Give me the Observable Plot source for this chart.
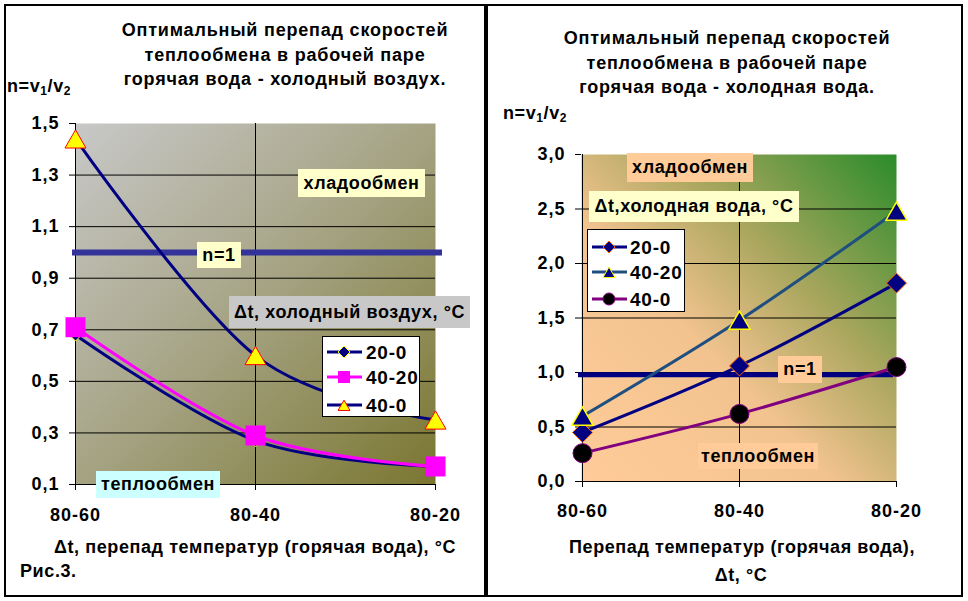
<!DOCTYPE html>
<html><head><meta charset="utf-8">
<script src="https://cdn.jsdelivr.net/npm/d3@7"></script>
<script src="https://cdn.jsdelivr.net/npm/@observablehq/plot@0.6"></script>
<style>
body{margin:0;background:#fff;font-family:"Liberation Sans",Arial,sans-serif;font-weight:bold;color:#000;}
#page{position:relative;width:968px;height:601px;overflow:hidden;background:#fff;}
.panel{position:absolute;border:2px solid #000;box-sizing:border-box;}
.plot{position:absolute;top:0;}
.plot text{letter-spacing:1px;}
.lbl{position:absolute;font-size:18px;display:flex;align-items:center;justify-content:center;white-space:nowrap;letter-spacing:0.6px;}
.txt{position:absolute;font-size:18px;white-space:nowrap;letter-spacing:0.6px;}
.title{position:absolute;font-size:18px;text-align:center;white-space:nowrap;transform:translateX(-50%);line-height:24.5px;letter-spacing:0.8px;}
sub{font-size:12px;vertical-align:-3px;line-height:0;}
</style></head><body><div id="page">
<div class="panel" style="left:4px;top:4px;width:482px;height:593px"></div>
<div class="panel" style="left:486px;top:4px;width:477px;height:593px"></div>
</div>
<script>
// ---------- data ----------
const categories = ["80-60", "80-40", "80-20"];
const seriesNames = ["20-0", "40-20", "40-0"];
// left chart: hot water – cold air
const air_20_0  = [0.68, 0.27, 0.17];
const air_40_20 = [0.71, 0.29, 0.17];
const air_40_0  = [1.44, 0.60, 0.35];
const airTicks  = [0.1, 0.3, 0.5, 0.7, 0.9, 1.1, 1.3, 1.5];
const airUnity  = [1.0];
// right chart: hot water – cold water
const water_20_0  = [0.45, 1.06, 1.82];
const water_40_20 = [0.60, 1.48, 2.48];
const water_40_0  = [0.26, 0.62, 1.05];
const waterTicks  = [0, 0.5, 1.0, 1.5, 2.0, 2.5, 3.0];
const waterUnity  = [0.98];

const rows = (vals) => categories.map((c, i) => ({cat: c, value: vals[i]}));
const fmt = (d) => d.toFixed(1).replace(".", ",");
const page = document.getElementById("page");

function gradientDefs(id, coords, stops) {
  return () => {
    const defs = d3.create("svg:defs");
    const g = defs.append("linearGradient").attr("id", id)
      .attr("x1", coords[0]).attr("y1", coords[1]).attr("x2", coords[2]).attr("y2", coords[3]);
    stops.forEach(([o, c]) => g.append("stop").attr("offset", o).attr("stop-color", c));
    return defs.node();
  };
}

const fontStyle = {fontFamily: "Liberation Sans, Arial, sans-serif", fontWeight: "bold", fontSize: "18px", color: "#000", background: "transparent", overflow: "visible"};

// ---------- left chart ----------
const airPlot = Plot.plot({
  width: 484, height: 601,
  marginLeft: 75, marginRight: 49, marginTop: 123, marginBottom: 117,
  style: fontStyle,
  x: {type: "point", domain: categories, padding: 0, axis: null},
  y: {domain: [0.1, 1.5], axis: null},
  marks: [
    gradientDefs("gAir", ["0", "0", "1", "1"], [["0", "#c8c8c8"], ["0.45", "#a9a78a"], ["1", "#7a7630"]]),
    Plot.frame({fill: "url(#gAir)", stroke: null}),
    Plot.gridY(airTicks.slice(0, -1), {stroke: "#000", strokeOpacity: 1}),
    Plot.ruleX(categories.slice(0, 2), {stroke: "#000"}),
    Plot.axisY(airTicks, {label: null, tickSize: 6, tickPadding: 10, tickFormat: fmt, fontSize: 18, fontWeight: "bold"}),
    Plot.axisX(categories, {label: null, tickSize: 6, tickPadding: 18, fontSize: 18, fontWeight: "bold"}),
    Plot.ruleY(airUnity, {stroke: "#333399", strokeWidth: 6, insetLeft: -3, insetRight: -7}),
    Plot.line(rows(air_20_0), {x: "cat", y: "value", stroke: "#000080", strokeWidth: 3, curve: "cardinal"}),
    Plot.line(rows(air_40_20), {x: "cat", y: "value", stroke: "#ff00ff", strokeWidth: 3, curve: "cardinal"}),
    Plot.line(rows(air_40_0), {x: "cat", y: "value", stroke: "#000080", strokeWidth: 3, curve: "cardinal"}),
    Plot.dot(rows(air_20_0), {x: "cat", y: "value", symbol: "diamond2", r: 5.5, fill: "#000080", stroke: "#ffff00", strokeWidth: 1}),
    Plot.dot(rows(air_40_20), {x: "cat", y: "value", symbol: "square", r: 11.3, fill: "#ff00ff", stroke: "none"}),
    Plot.dot(rows(air_40_0), {x: "cat", y: "value", symbol: "triangle", r: 7.8, dy: 3, fill: "#ffff00", stroke: "#ff0000", strokeWidth: 1})
  ]
});
airPlot.classList.add("plot");
airPlot.style.left = "0px";
page.appendChild(airPlot);

// ---------- right chart ----------
const waterPlot = Plot.plot({
  width: 476, height: 601,
  marginLeft: 93, marginRight: 68, marginTop: 154, marginBottom: 120,
  style: fontStyle,
  x: {type: "point", domain: categories, padding: 0, axis: null},
  y: {domain: [0, 3], axis: null},
  marks: [
    gradientDefs("gWater", ["0", "1", "1", "0"], [["0", "#ffcc99"], ["0.4", "#f2c38f"], ["0.65", "#a9a65e"], ["1", "#2a8c2a"]]),
    Plot.frame({fill: "url(#gWater)", stroke: null}),
    Plot.gridY(waterTicks.slice(0, -1), {stroke: "#000", strokeOpacity: 1}),
    Plot.ruleX(categories.slice(0, 2), {stroke: "#000"}),
    Plot.axisY(waterTicks, {label: null, tickSize: 6, tickPadding: 10, tickFormat: fmt, fontSize: 18, fontWeight: "bold"}),
    Plot.axisX(categories, {label: null, tickSize: 6, tickPadding: 17, fontSize: 18, fontWeight: "bold"}),
    Plot.ruleY(waterUnity, {stroke: "#000080", strokeWidth: 5, insetLeft: -3, insetRight: 3}),
    Plot.line(rows(water_20_0), {x: "cat", y: "value", stroke: "#000080", strokeWidth: 3, curve: "cardinal"}),
    Plot.line(rows(water_40_20), {x: "cat", y: "value", stroke: "#1f4f80", strokeWidth: 3, curve: "cardinal"}),
    Plot.line(rows(water_40_0), {x: "cat", y: "value", stroke: "#800080", strokeWidth: 3, curve: "cardinal"}),
    Plot.dot(rows(water_20_0), {x: "cat", y: "value", symbol: "diamond2", r: 9, fill: "#000080", stroke: "#ff6600", strokeWidth: 1}),
    Plot.dot(rows(water_40_20), {x: "cat", y: "value", symbol: "triangle", r: 7.8, dy: 3, fill: "#000080", stroke: "#ffff00", strokeWidth: 1.5}),
    Plot.dot(rows(water_40_0), {x: "cat", y: "value", symbol: "circle", r: 9.5, fill: "#000000", stroke: "#800080", strokeWidth: 1})
  ]
});
waterPlot.classList.add("plot");
waterPlot.style.left = "488px";
page.appendChild(waterPlot);

// ---------- texts ----------
function addHTML(cls, html, css) {
  const d = document.createElement("div");
  d.className = cls;
  d.innerHTML = html;
  Object.assign(d.style, css);
  page.appendChild(d);
  return d;
}
addHTML("title", "Оптимальный перепад скоростей<br>теплообмена в рабочей паре<br>горячая вода - холодный воздух.", {left: "285px", top: "18px"});
addHTML("title", "Оптимальный перепад скоростей<br>теплообмена в рабочей паре<br>горячая вода - холодная вода.", {left: "727px", top: "26px"});
addHTML("txt", "n=v<sub>1</sub>/v<sub>2</sub>", {left: "7px", top: "76px"});
addHTML("txt", "n=v<sub>1</sub>/v<sub>2</sub>", {left: "503px", top: "103px"});
addHTML("txt", "Δt, перепад температур (горячая вода), °C", {left: "255px", top: "537px", transform: "translateX(-50%)"});
addHTML("txt", "Рис.3.", {left: "20px", top: "561px"});
addHTML("txt", "Перепад температур (горячая вода),", {left: "742px", top: "537px", transform: "translateX(-50%)"});
addHTML("txt", "Δt, °C", {left: "741px", top: "565px", transform: "translateX(-50%)"});

const boxes = [
  ["хладообмен", 298, 169, 127, 28, "#ffffcc"],
  ["n=1", 197, 242, 44, 26, "#ffffcc"],
  ["Δt, холодный воздух, °C", 229, 296, 241, 32, "#c8c8c8"],
  ["теплообмен", 96, 471, 124, 27, "#ccffff"],
  ["хладообмен", 627, 153, 126, 29, "#ffcc99"],
  ["Δt,холодная вода, °C", 589, 191, 210, 31, "#ffffcc"],
  ["n=1", 778, 356, 44, 27, "#ffcc99"],
  ["теплообмен", 698, 443, 120, 26, "#ffcc99"]
];
boxes.forEach(([t, x, y, w, h, bg]) => addHTML("lbl", t, {left: x + "px", top: y + "px", width: w + "px", height: h + "px", background: bg}));

// ---------- legends ----------
function legend(box, items) {
  const div = document.createElement("div");
  Object.assign(div.style, {position: "absolute", left: box.x + "px", top: box.y + "px", width: box.w + "px", height: box.h + "px", background: "#fff", border: "1px solid #000", boxSizing: "border-box"});
  const svg = d3.select(div).append("svg").attr("width", box.w).attr("height", box.h)
    .style("position", "absolute").style("left", "-1px").style("top", "-1px").style("overflow", "visible");
  const types = {diamond2: d3.symbolDiamond2, square: d3.symbolSquare, triangle: d3.symbolTriangle, circle: d3.symbolCircle};
  items.forEach((it, i) => {
    const g = svg.append("g").attr("transform", `translate(0,${box.rows[i]})`);
    g.append("line").attr("x1", box.l1).attr("x2", box.l2).attr("stroke", it.line).attr("stroke-width", 3);
    g.append("path").attr("d", d3.symbol(types[it.symbol], it.size)())
      .attr("transform", `translate(${box.mx},${it.dy || 0})`)
      .attr("fill", it.fill).attr("stroke", it.stroke).attr("stroke-width", 1);
    g.append("text").attr("x", box.tx).attr("dy", "0.36em").attr("font-size", 19)
      .attr("font-weight", "bold").attr("letter-spacing", "0.8px")
      .attr("font-family", "Liberation Sans, Arial, sans-serif").text(it.label);
  });
  page.appendChild(div);
}
legend({x: 322, y: 336, w: 98, h: 81, rows: [16, 41, 69], l1: 5, l2: 40, mx: 22, tx: 44}, [
  {label: seriesNames[0], line: "#000080", symbol: "diamond2", size: 92, fill: "#000080", stroke: "#ffff00"},
  {label: seriesNames[1], line: "#ff00ff", symbol: "square", size: 144, fill: "#ff00ff", stroke: "none"},
  {label: seriesNames[2], line: "#000080", symbol: "triangle", size: 62, dy: 2, fill: "#ffff00", stroke: "#ff0000"}
]);
legend({x: 587, y: 229, w: 98, h: 83, rows: [18, 43, 70], l1: 5, l2: 40, mx: 22, tx: 43}, [
  {label: seriesNames[0], line: "#000080", symbol: "diamond2", size: 92, fill: "#000080", stroke: "#ff6600"},
  {label: seriesNames[1], line: "#1f4f80", symbol: "triangle", size: 62, dy: 2, fill: "#000080", stroke: "#ffff00"},
  {label: seriesNames[2], line: "#800080", symbol: "circle", size: 113, fill: "#000000", stroke: "#800080"}
]);
</script>
</body></html>
